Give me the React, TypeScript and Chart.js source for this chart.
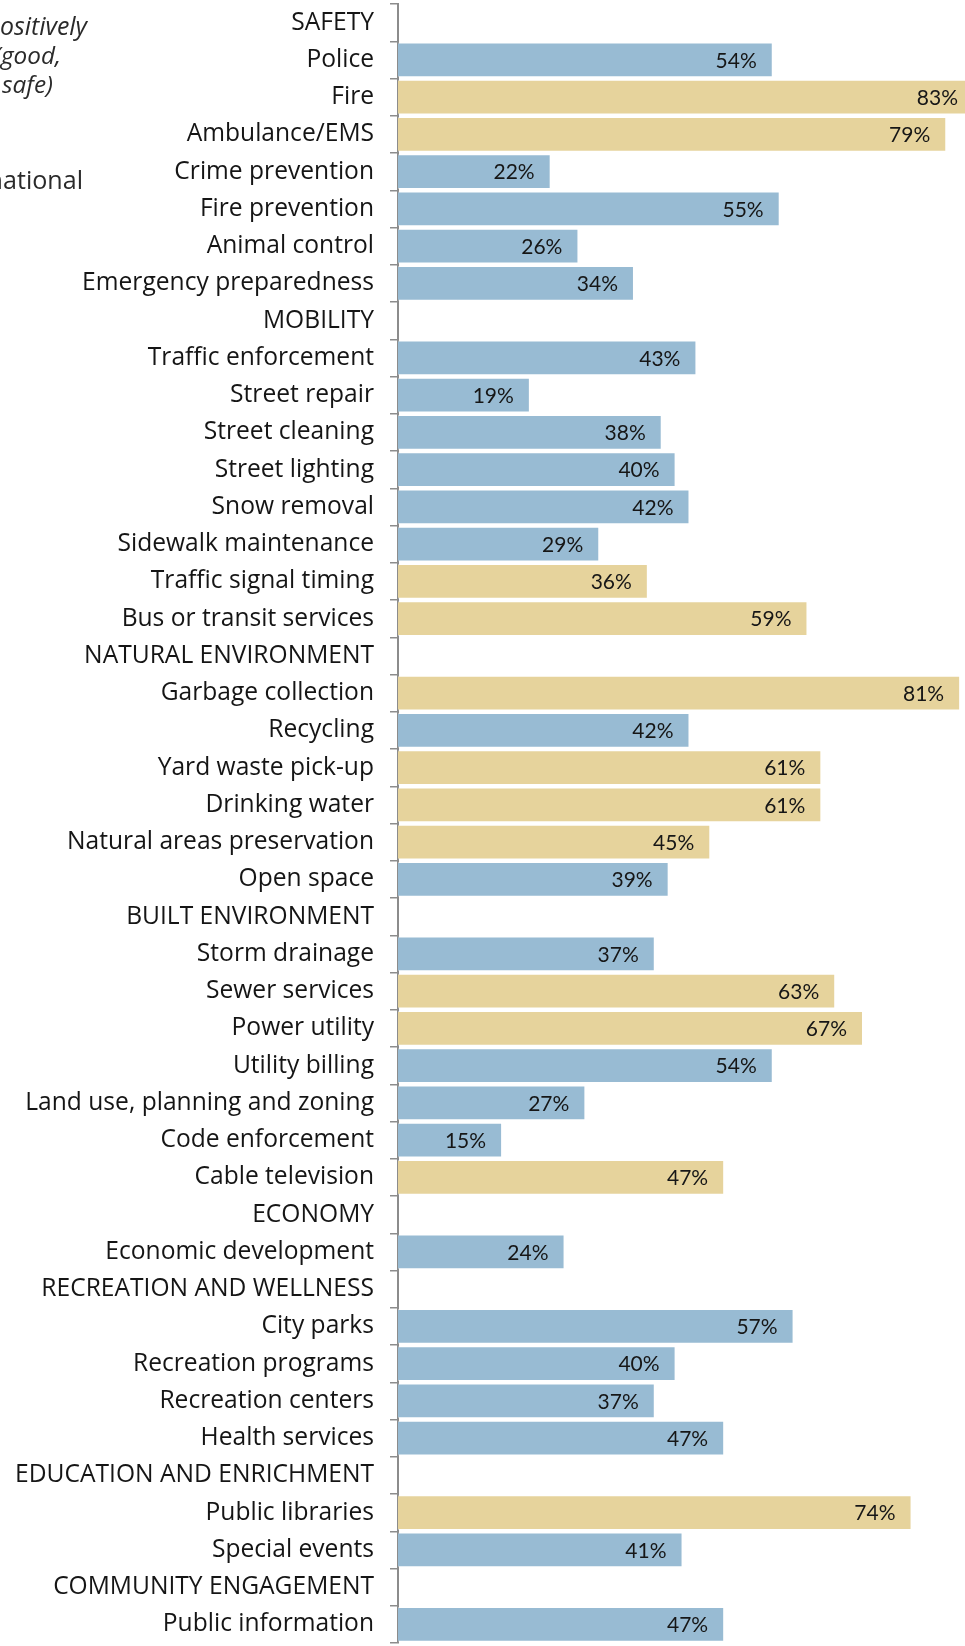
import React, { useEffect, useRef } from 'react';
import { Chart, registerables } from 'chart.js';

Chart.register(...registerables);

const categories: string[] = [
  'SAFETY',
  'Police',
  'Fire',
  'Ambulance/EMS',
  'Crime prevention',
  'Fire prevention',
  'Animal control',
  'Emergency preparedness',
  'MOBILITY',
  'Traffic enforcement',
  'Street repair',
  'Street cleaning',
  'Street lighting',
  'Snow removal',
  'Sidewalk maintenance',
  'Traffic signal timing',
  'Bus or transit services',
  'NATURAL ENVIRONMENT',
  'Garbage collection',
  'Recycling',
  'Yard waste pick-up',
  'Drinking water',
  'Natural areas preservation',
  'Open space',
  'BUILT ENVIRONMENT',
  'Storm drainage',
  'Sewer services',
  'Power utility',
  'Utility billing',
  'Land use, planning and zoning',
  'Code enforcement',
  'Cable television',
  'ECONOMY',
  'Economic development',
  'RECREATION AND WELLNESS',
  'City parks',
  'Recreation programs',
  'Recreation centers',
  'Health services',
  'EDUCATION AND ENRICHMENT',
  'Public libraries',
  'Special events',
  'COMMUNITY ENGAGEMENT',
  'Public information',
];

// percent rated positively (null = section heading)
const values: (number | null)[] = [
  null, 54, 83, 79, 22, 55, 26, 34,
  null, 43, 19, 38, 40, 42, 29, 36, 59,
  null, 81, 42, 61, 61, 45, 39,
  null, 37, 63, 67, 54, 27, 15, 47,
  null, 24,
  null, 57, 40, 37, 47,
  null, 74, 41,
  null, 47,
];

// 'higher' = gold bars, 'similar' = blue bars
const comparison: string[] = [
  '', 'similar', 'higher', 'higher', 'similar', 'similar', 'similar', 'similar',
  '', 'similar', 'similar', 'similar', 'similar', 'similar', 'similar', 'higher', 'higher',
  '', 'higher', 'similar', 'higher', 'higher', 'higher', 'similar',
  '', 'similar', 'higher', 'higher', 'similar', 'similar', 'similar', 'higher',
  '', 'similar',
  '', 'similar', 'similar', 'similar', 'similar',
  '', 'higher', 'similar',
  '', 'similar',
];

// side note (cut off at the left edge of the picture): hidden prefix + visible text
const noteHidden: string[] = ['Rated p', 'excellent/(', 'very ', 'n'];
const noteVisible: string[] = ['ositively', 'good,', 'safe)', 'ational'];
const noteItalic: boolean[] = [true, true, true, false];

const BLUE = '#98bbd3';
const GOLD = '#e6d39c';
const FONT = '"Open Sans"';

export default function App() {
  const ref = useRef<HTMLCanvasElement | null>(null);

  useEffect(() => {
    if (!ref.current) return;

    const valueLabels = {
      id: 'valueLabels',
      afterDatasetsDraw(chart: any) {
        const ctx = chart.ctx;
        const meta = chart.getDatasetMeta(0);
        ctx.save();
        ctx.font = '21px Lato';
        ctx.fillStyle = '#161616';
        ctx.textAlign = 'right';
        ctx.textBaseline = 'middle';
        meta.data.forEach((bar: any, i: number) => {
          const v = values[i];
          if (v == null) return;
          ctx.fillText(v + '%', bar.x - 16, bar.y + 1);
        });
        ctx.restore();
      },
    };

    const sideNote = {
      id: 'sideNote',
      afterDraw(chart: any) {
        const ctx = chart.ctx;
        ctx.save();
        ctx.fillStyle = '#2a2a2a';
        ctx.textAlign = 'left';
        ctx.textBaseline = 'alphabetic';
        const starts = [0, 1, 2, 3];
        const ends = [87, 61, 53, 83];
        const bases = [35, 64, 93, 189];
        noteVisible.forEach((vis, i) => {
          const style = noteItalic[i] ? 'italic ' : '';
          ctx.font = style + '24px ' + FONT;
          const w = ctx.measureText(vis).width;
          const size = (24 * (ends[i] - starts[i])) / w;
          ctx.font = style + size.toFixed(2) + 'px ' + FONT;
          const hw = ctx.measureText(noteHidden[i]).width;
          ctx.fillText(noteHidden[i] + vis, starts[i] - hw, bases[i]);
        });
        ctx.restore();
      },
    };

    const chart = new Chart(ref.current, {
      type: 'bar',
      data: {
        labels: categories,
        datasets: [
          {
            data: values as any,
            backgroundColor: comparison.map((c) => (c === 'higher' ? GOLD : BLUE)),
            borderColor: 'rgba(255,255,255,0.4)',
            borderWidth: 1,
            barPercentage: 0.93,
            categoryPercentage: 1,
          },
        ],
      },
      options: {
        indexAxis: 'y',
        animation: false,
        responsive: false,
        devicePixelRatio: 1,
        layout: { padding: { top: 4, bottom: 3, left: 0, right: 0 } },
        plugins: {
          legend: { display: false },
          tooltip: { enabled: false },
        },
        scales: {
          x: {
            display: false,
            min: 0,
            max: 81.7,
          },
          y: {
            type: 'category',
            afterFit: (s: any) => {
              s.width = 398;
              s.paddingTop = 0;
              s.paddingBottom = 0;
            },
            grid: {
              offset: true,
              drawOnChartArea: false,
              drawTicks: true,
              tickLength: 8,
              color: '#8c8c8c',
              lineWidth: 1.5,
            },
            border: { display: true, color: '#8c8c8c', width: 2 },
            ticks: {
              padding: 16,
              color: '#151515',
              font: { family: FONT, size: 24.6 },
              autoSkip: false,
            },
          },
        },
      },
      plugins: [valueLabels, sideNote],
    });

    return () => chart.destroy();
  }, []);

  return (
    <div style={{ position: 'absolute', left: 0, top: 0, width: 965, height: 1646, overflow: 'hidden', background: '#fff' }}>
      <canvas ref={ref} width={965} height={1646} style={{ display: 'block', width: 965, height: 1646 }} />
    </div>
  );
}
